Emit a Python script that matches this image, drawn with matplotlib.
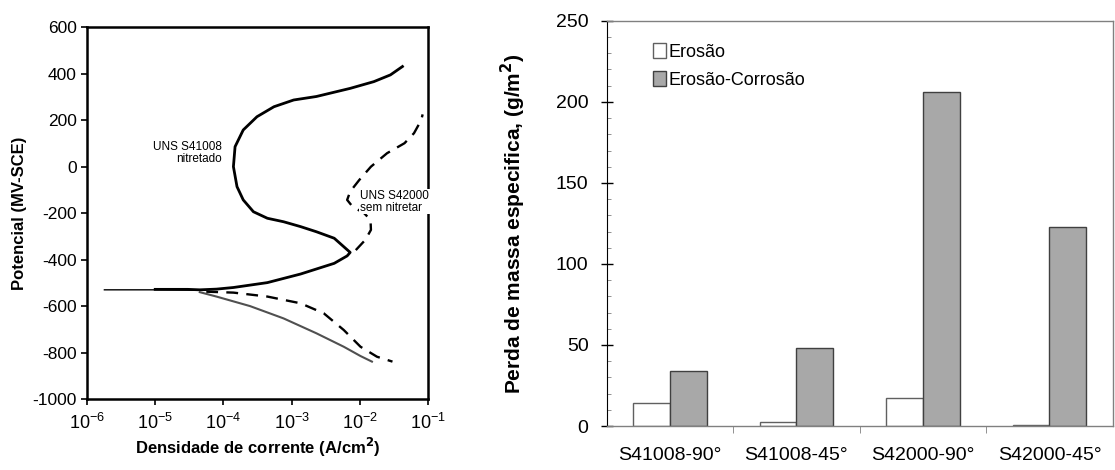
import numpy as np
import matplotlib
matplotlib.use("Agg")
import matplotlib.pyplot as plt
from matplotlib.ticker import MultipleLocator, LogLocator, FixedLocator

plt.rcParams['font.family'] = ['Liberation Sans', 'DejaVu Sans']
plt.rcParams['axes.unicode_minus'] = False

# --- polarization curves (current density A/cm2, potential mV) ---
# UNS S41008 nitretado, anodic branch (incl. the flat part near Ecorr)
s41_an_i = [1.0e-5, 3.0e-5, 4.5e-5, 7.9e-5, 1.4e-4, 4.4e-4, 1.35e-3, 4.2e-3, 6.5e-3, 7.2e-3,
            4.2e-3, 2.3e-3, 1.35e-3, 7.6e-4, 4.4e-4, 2.75e-4, 1.95e-4, 1.58e-4, 1.4e-4,
            1.48e-4, 1.95e-4, 3.1e-4, 5.5e-4, 1.07e-3, 2.3e-3, 7.2e-3, 1.6e-2, 2.8e-2, 4.2e-2]
s41_an_e = [-528, -528, -530, -527, -520, -499, -462, -416, -384, -369,
            -308, -280, -258, -237, -222, -194, -143, -86, 0,
            86, 158, 215, 258, 287, 302, 337, 366, 395, 431]
# thin segment at low current
s41_low_i = [1.8e-6, 1.0e-5, 4.5e-5]
s41_low_e = [-530, -530, -532]
# cathodic branch
s41_cat_i = [4.5e-5, 7.9e-5, 2.45e-4, 7.6e-4, 2.3e-3, 5.8e-3, 1.02e-2, 1.5e-2]
s41_cat_e = [-540, -559, -600, -653, -717, -775, -815, -839]

# UNS S42000 sem nitretar
s42_cat_i = [5.6e-5, 1.4e-4, 4.4e-4, 1.35e-3, 2.95e-3, 5.8e-3, 1.02e-2, 1.78e-2, 3.0e-2]
s42_cat_e = [-538, -542, -559, -588, -631, -703, -775, -818, -839]
s42_an_i = [8.7e-3, 1.2e-2, 1.45e-2, 1.43e-2, 1.15e-2, 7.8e-3, 6.5e-3, 7.2e-3, 9.8e-3,
            1.45e-2, 2.5e-2, 4.5e-2, 6.2e-2, 7.9e-2, 8.3e-2]
s42_an_e = [-359, -315, -272, -229, -200, -172, -143, -107, -57,
            0, 58, 101, 144, 200, 225]

# --- mass loss bars ---
amostras = ['S41008-90°', 'S41008-45°', 'S42000-90°', 'S42000-45°']
erosao = [14, 2.5, 17.5, 0.5]
erosao_corrosao = [34, 48, 206, 123]

fig = plt.figure(figsize=(11.15, 4.7), dpi=100)

# polarization plot
ax1 = fig.add_axes([0.078, 0.151, 0.306, 0.791])
ax1.plot(s41_low_i, s41_low_e, color='black', lw=1.0)
ax1.plot(s41_an_i, s41_an_e, color='black', lw=2.0)
ax1.plot(s41_cat_i, s41_cat_e, color='#505050', lw=1.5)
ax1.plot(s42_cat_i, s42_cat_e, color='black', lw=1.7, ls=(0, (5, 3.5)))
ax1.plot(s42_an_i, s42_an_e, color='black', lw=1.7, ls=(0, (5, 3.5)))
ax1.set_xscale('log')
ax1.set_xlim(1e-6, 1e-1)
ax1.set_ylim(-1000, 600)
ax1.yaxis.set_major_locator(MultipleLocator(200))
ax1.xaxis.set_major_locator(LogLocator(base=10, numticks=10))
ax1.xaxis.set_minor_locator(FixedLocator([]))
ax1.tick_params(labelsize=12.5, direction='out', length=4, width=1.2)
ax1.tick_params(axis='x', labelsize=13, pad=6)
for sp in ax1.spines.values():
    sp.set_linewidth(1.8)
ax1.set_xlabel('Densidade de corrente (A/cm$^\\mathbf{2}$)', fontsize=12, fontweight='bold', labelpad=2)
ax1.set_ylabel('Potencial (MV-SCE)', fontsize=12, fontweight='bold', labelpad=4)
ax1.text(9.5e-5, 57, 'UNS S41008\nnitretado', fontsize=8.5, ha='right', va='center', linespacing=1.0)
ax1.text(1.0e-2, -150, 'UNS S42000\nsem nitretar', fontsize=8.5, ha='left', va='center', linespacing=1.0,
         bbox=dict(facecolor='white', edgecolor='none', pad=0.5))

# bar chart
ax2 = fig.add_axes([0.544, 0.0936, 0.454, 0.862])
x = np.arange(len(amostras))
w = 0.29
ax2.bar(x - w / 2, erosao, w, color='white', edgecolor='#606060', lw=1.0, label='Erosão')
ax2.bar(x + w / 2, erosao_corrosao, w, color='#a8a8a8', edgecolor='#404040', lw=1.0, label='Erosão-Corrosão')
ax2.set_xlim(-0.5, 3.5)
ax2.set_ylim(0, 250)
ax2.yaxis.set_major_locator(MultipleLocator(50))
ax2.yaxis.set_minor_locator(MultipleLocator(10))
ax2.set_xticks(x)
ax2.set_xticklabels(amostras, fontsize=14)
ax2.tick_params(axis='x', length=0, pad=15)
ax2.xaxis.set_minor_locator(FixedLocator([0.5, 1.5, 2.5]))
ax2.tick_params(axis='x', which='minor', length=5, direction='out', color='#808080')
ax2.tick_params(axis='y', which='major', direction='inout', length=8, labelsize=14, width=1.0, pad=9)
ax2.tick_params(axis='y', which='minor', direction='in', length=3, color='#808080')
ax2.spines['left'].set_color('black')
for s in ['top', 'right', 'bottom']:
    ax2.spines[s].set_color('#808080')
    ax2.spines[s].set_linewidth(1.0)
ax2.set_ylabel('Perda de massa especifica, (g/m$^\\mathbf{2}$)', fontsize=15, fontweight='bold', labelpad=20)
ax2.legend(loc='upper left', bbox_to_anchor=(0.06, 0.985), frameon=False, fontsize=13,
           handlelength=0.7, handleheight=0.9, handletextpad=0.15, labelspacing=0.55)

fig.savefig('out.png', dpi=100)
